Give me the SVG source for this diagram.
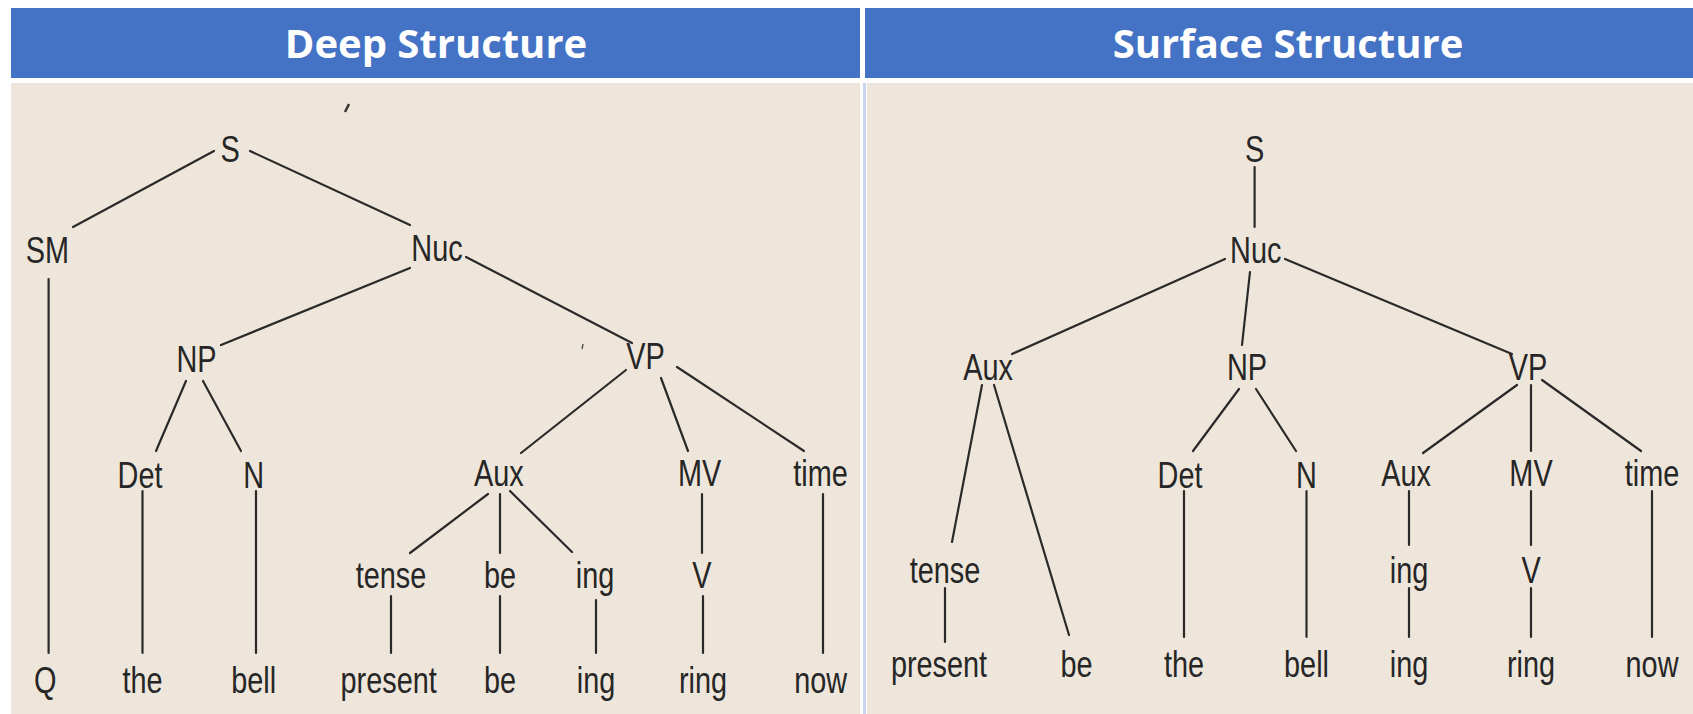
<svg xmlns="http://www.w3.org/2000/svg" width="1693" height="714" viewBox="0 0 1693 714">
<style>
.hdr{fill:#4472C4}
.htxt{font-family:"Open Sans","Liberation Sans",sans-serif;font-weight:700;font-size:40px;fill:#fff;text-anchor:middle}
.panel{fill:#EFE6DB}
.lbl{font-family:"Liberation Sans",Arial,sans-serif;font-size:37px;fill:#262626;text-anchor:middle}
.ln{stroke:#2a2a2a;stroke-width:2.2;fill:none;stroke-linecap:round}
</style>
<rect width="1693" height="714" fill="#ffffff"/>
<g id="header-deep"><rect class="hdr" x="11" y="8" width="849" height="70"/><text class="htxt" x="436" y="58">Deep Structure</text></g>
<g id="header-surface"><rect class="hdr" x="865" y="8" width="828" height="70"/><text class="htxt" x="1288" y="58">Surface Structure</text></g>
<rect class="panel" x="11" y="83" width="849" height="631"/>
<rect class="panel" x="867" y="83" width="826" height="631"/>
<rect x="863" y="83" width="3" height="631" fill="#C9D5EE"/>
<path d="M345 112 L349 104" stroke="#333" stroke-width="2.5"/>
<path d="M582 349 L583 344" stroke="#555" stroke-width="1.5"/>
<g id="connectors">
<!-- deep -->
<line class="ln" x1="214" y1="151" x2="73" y2="227"/>
<line class="ln" x1="250" y1="151" x2="410" y2="225"/>
<line class="ln" x1="48.6" y1="279" x2="48.6" y2="653"/>
<line class="ln" x1="410" y1="268" x2="221" y2="345"/>
<line class="ln" x1="466" y1="257" x2="632" y2="343"/>
<line class="ln" x1="186" y1="381" x2="156" y2="451"/>
<line class="ln" x1="203" y1="381" x2="241" y2="451"/>
<line class="ln" x1="142.5" y1="491" x2="142.5" y2="653"/>
<line class="ln" x1="256" y1="491" x2="256" y2="653"/>
<line class="ln" x1="626" y1="370" x2="521" y2="453"/>
<line class="ln" x1="661" y1="378" x2="688" y2="451"/>
<line class="ln" x1="677" y1="367" x2="804" y2="451"/>
<line class="ln" x1="488" y1="494" x2="410" y2="553"/>
<line class="ln" x1="500" y1="494" x2="500" y2="553"/>
<line class="ln" x1="510" y1="491" x2="572" y2="552"/>
<line class="ln" x1="702" y1="494" x2="702" y2="553"/>
<line class="ln" x1="823" y1="494" x2="823" y2="653"/>
<line class="ln" x1="391" y1="596" x2="391" y2="653"/>
<line class="ln" x1="500" y1="596" x2="500" y2="653"/>
<line class="ln" x1="596" y1="600" x2="596" y2="653"/>
<line class="ln" x1="703" y1="596" x2="703" y2="653"/>
<!-- surface -->
<line class="ln" x1="1254.6" y1="167" x2="1254.6" y2="227"/>
<line class="ln" x1="1225" y1="259" x2="1012" y2="354"/>
<line class="ln" x1="1250" y1="272" x2="1242" y2="345"/>
<line class="ln" x1="1285" y1="259" x2="1512" y2="354"/>
<line class="ln" x1="982" y1="385" x2="952" y2="542"/>
<line class="ln" x1="994" y1="385" x2="1069" y2="635"/>
<line class="ln" x1="945" y1="588" x2="945" y2="642"/>
<line class="ln" x1="1239" y1="389" x2="1193" y2="451"/>
<line class="ln" x1="1256" y1="389" x2="1296" y2="451"/>
<line class="ln" x1="1184" y1="491" x2="1184" y2="637"/>
<line class="ln" x1="1306.5" y1="491" x2="1306.5" y2="637"/>
<line class="ln" x1="1517" y1="385" x2="1423" y2="453"/>
<line class="ln" x1="1531" y1="385" x2="1531" y2="451"/>
<line class="ln" x1="1542" y1="380" x2="1641" y2="451"/>
<line class="ln" x1="1409" y1="491" x2="1409" y2="545"/>
<line class="ln" x1="1409" y1="588" x2="1409" y2="637"/>
<line class="ln" x1="1531" y1="491" x2="1531" y2="545"/>
<line class="ln" x1="1531" y1="588" x2="1531" y2="637"/>
<line class="ln" x1="1652" y1="491" x2="1652" y2="637"/>
</g>
<!-- deep nodes -->
<g id="d-S" transform="translate(230,162)"><text class="lbl" transform="scale(0.78,1)">S</text></g>
<g id="d-SM" transform="translate(47.5,263)"><text class="lbl" transform="scale(0.78,1)">SM</text></g>
<g id="d-Nuc" transform="translate(437,261)"><text class="lbl" transform="scale(0.78,1)">Nuc</text></g>
<g id="d-NP" transform="translate(196.5,372)"><text class="lbl" transform="scale(0.78,1)">NP</text></g>
<g id="d-VP" transform="translate(645.6,369)"><text class="lbl" transform="scale(0.78,1)">VP</text></g>
<g id="d-Det" transform="translate(140,488)"><text class="lbl" transform="scale(0.78,1)">Det</text></g>
<g id="d-N" transform="translate(253.7,488)"><text class="lbl" transform="scale(0.78,1)">N</text></g>
<g id="d-Aux" transform="translate(498.8,486)"><text class="lbl" transform="scale(0.78,1)">Aux</text></g>
<g id="d-MV" transform="translate(699.6,486)"><text class="lbl" transform="scale(0.78,1)">MV</text></g>
<g id="d-time" transform="translate(820.6,486)"><text class="lbl" transform="scale(0.78,1)">time</text></g>
<g id="d-tense" transform="translate(391,588)"><text class="lbl" transform="scale(0.78,1)">tense</text></g>
<g id="d-be1" transform="translate(500,588)"><text class="lbl" transform="scale(0.78,1)">be</text></g>
<g id="d-ing1" transform="translate(595,588)"><text class="lbl" transform="scale(0.78,1)">ing</text></g>
<g id="d-V" transform="translate(701.8,588)"><text class="lbl" transform="scale(0.78,1)">V</text></g>
<g id="d-Q" transform="translate(45.3,693)"><text class="lbl" transform="scale(0.78,1)">Q</text></g>
<g id="d-the" transform="translate(142.5,693)"><text class="lbl" transform="scale(0.78,1)">the</text></g>
<g id="d-bell" transform="translate(253.7,693)"><text class="lbl" transform="scale(0.78,1)">bell</text></g>
<g id="d-present" transform="translate(388.7,693)"><text class="lbl" transform="scale(0.78,1)">present</text></g>
<g id="d-be2" transform="translate(500,693)"><text class="lbl" transform="scale(0.78,1)">be</text></g>
<g id="d-ing2" transform="translate(596,693)"><text class="lbl" transform="scale(0.78,1)">ing</text></g>
<g id="d-ring" transform="translate(703,693)"><text class="lbl" transform="scale(0.78,1)">ring</text></g>
<g id="d-now" transform="translate(820.6,693)"><text class="lbl" transform="scale(0.78,1)">now</text></g>
<!-- surface nodes -->
<g id="s-S" transform="translate(1254.6,162)"><text class="lbl" transform="scale(0.78,1)">S</text></g>
<g id="s-Nuc" transform="translate(1255.7,263)"><text class="lbl" transform="scale(0.78,1)">Nuc</text></g>
<g id="s-Aux" transform="translate(988,380)"><text class="lbl" transform="scale(0.78,1)">Aux</text></g>
<g id="s-NP" transform="translate(1247,380)"><text class="lbl" transform="scale(0.78,1)">NP</text></g>
<g id="s-VP" transform="translate(1528,380)"><text class="lbl" transform="scale(0.78,1)">VP</text></g>
<g id="s-Det" transform="translate(1180,488)"><text class="lbl" transform="scale(0.78,1)">Det</text></g>
<g id="s-N" transform="translate(1306.5,488)"><text class="lbl" transform="scale(0.78,1)">N</text></g>
<g id="s-Aux2" transform="translate(1406,486)"><text class="lbl" transform="scale(0.78,1)">Aux</text></g>
<g id="s-MV" transform="translate(1531,486)"><text class="lbl" transform="scale(0.78,1)">MV</text></g>
<g id="s-time" transform="translate(1652,486)"><text class="lbl" transform="scale(0.78,1)">time</text></g>
<g id="s-tense" transform="translate(945,583)"><text class="lbl" transform="scale(0.78,1)">tense</text></g>
<g id="s-ing1" transform="translate(1409,583)"><text class="lbl" transform="scale(0.78,1)">ing</text></g>
<g id="s-V" transform="translate(1531,583)"><text class="lbl" transform="scale(0.78,1)">V</text></g>
<g id="s-present" transform="translate(939,677)"><text class="lbl" transform="scale(0.78,1)">present</text></g>
<g id="s-be" transform="translate(1076.5,677)"><text class="lbl" transform="scale(0.78,1)">be</text></g>
<g id="s-the" transform="translate(1184,677)"><text class="lbl" transform="scale(0.78,1)">the</text></g>
<g id="s-bell" transform="translate(1306.5,677)"><text class="lbl" transform="scale(0.78,1)">bell</text></g>
<g id="s-ing2" transform="translate(1409,677)"><text class="lbl" transform="scale(0.78,1)">ing</text></g>
<g id="s-ring" transform="translate(1531,677)"><text class="lbl" transform="scale(0.78,1)">ring</text></g>
<g id="s-now" transform="translate(1652,677)"><text class="lbl" transform="scale(0.78,1)">now</text></g>
</svg>
